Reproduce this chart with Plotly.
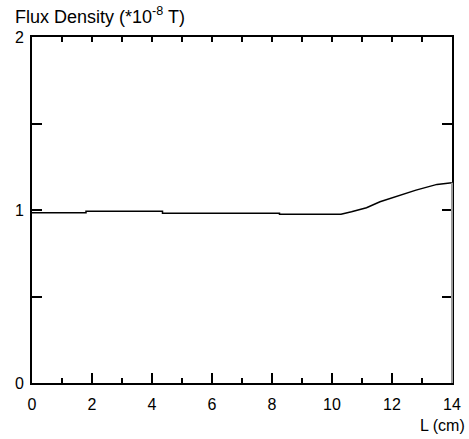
import plotly.graph_objects as go

length_cm = [0, 1.8, 1.8, 4.35, 4.35, 8.25, 8.25, 10.3, 10.65, 11.15, 11.6, 12.15, 12.8, 13.5, 14]
flux = [0.984, 0.984, 0.993, 0.993, 0.981, 0.981, 0.976, 0.976, 0.99, 1.013, 1.048, 1.080, 1.115, 1.148, 1.158]
x_ticks = [0, 2, 4, 6, 8, 10, 12, 14]
y_ticks = [0, 1, 2]

FONT = "Liberation Sans"

fig = go.Figure()
fig.add_trace(go.Scatter(x=length_cm, y=flux, mode="lines",
                         line=dict(color="black", width=1.5), showlegend=False, hoverinfo="skip"))
fig.add_trace(go.Scatter(x=[0, 14], y=[None, None], xaxis="x2", yaxis="y", showlegend=False, hoverinfo="skip"))

fig.update_layout(
    width=469, height=439,
    margin=dict(l=32, r=17, t=37, b=56),
    paper_bgcolor="white", plot_bgcolor="white",
    font=dict(family=FONT, size=16, color="black"),
    xaxis=dict(range=[0, 14], tickvals=x_ticks, ticks="inside", ticklen=10, tickwidth=2,
               tickcolor="black", showgrid=False, zeroline=False, showline=True, linecolor="black",
               linewidth=2, automargin=False,
               minor=dict(dtick=1, tick0=0, ticks="inside", ticklen=5, tickwidth=2, tickcolor="black"),
               ticklabelstandoff=6, tickfont=dict(size=16)),
    xaxis2=dict(range=[0, 14], overlaying="x", side="top", anchor="y", dtick=1, tick0=0,
                ticks="inside", ticklen=5, tickwidth=2, tickcolor="black", showticklabels=False,
                showgrid=False, zeroline=False, showline=True, linecolor="black", linewidth=2,
                automargin=False),
    yaxis=dict(range=[0, 2], tickvals=y_ticks, ticks="inside", ticklen=10, tickwidth=2,
               tickcolor="black", showgrid=False, zeroline=False, showline=True, linecolor="black",
               linewidth=2, mirror="allticks", automargin=False,
               minor=dict(dtick=0.5, tick0=0, ticks="inside", ticklen=6, tickwidth=2, tickcolor="black"),
               ticklabelstandoff=3, tickfont=dict(size=16)),
    shapes=[dict(type="line", xref="paper", yref="y", x0=1, x1=1, y0=0, y1=flux[-1],
                 line=dict(color="#9a9a9a", width=2))],
    annotations=[
        dict(text="Flux Density (*10<sup>-8</sup> T)", xref="paper", yref="paper", x=-0.045, y=1.0,
             yshift=22, xanchor="left", yanchor="middle", showarrow=False, font=dict(size=18)),
        dict(text="L (cm)", xref="paper", yref="paper", x=1.036, y=0, yshift=-42,
             xanchor="right", yanchor="middle", showarrow=False, font=dict(size=16)),
    ],
)
fig.write_html("out.html", config={"displayModeBar": False},
               post_script="document.body.style.margin='0';")
